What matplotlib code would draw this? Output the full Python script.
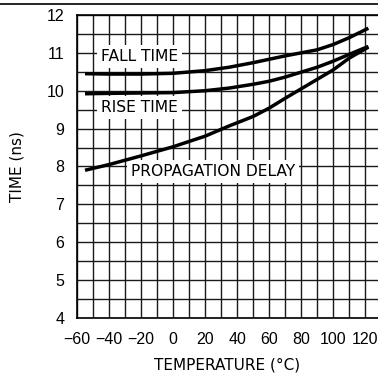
import matplotlib
matplotlib.use("Agg")
import matplotlib.pyplot as plt
from matplotlib.lines import Line2D

temps = [-55, -40, -20, 0, 20, 35, 50, 60, 70, 80, 90, 100, 110, 122]
fall_time = [10.45, 10.44, 10.44, 10.46, 10.53, 10.62, 10.74, 10.83, 10.92, 11.0, 11.08, 11.22, 11.4, 11.65]
rise_time = [9.92, 9.93, 9.94, 9.95, 10.0, 10.07, 10.17, 10.25, 10.36, 10.49, 10.62, 10.78, 10.96, 11.17]
prop_delay = [7.9, 8.05, 8.28, 8.52, 8.8, 9.07, 9.32, 9.54, 9.8, 10.05, 10.3, 10.55, 10.86, 11.15]

x_ticks = [-60, -40, -20, 0, 20, 40, 60, 80, 100, 120]
y_ticks = [4, 5, 6, 7, 8, 9, 10, 11, 12]

plt.rcParams['font.family'] = ['DejaVu Sans']

fig = plt.figure(figsize=(3.78, 3.79), dpi=100)
ax = fig.add_axes([0.2037, 0.161, 0.7963, 0.7995])

ax.set_xlim(-60, 128)
ax.set_ylim(4, 12)

# grid
for gx in range(-60, 121, 10):
    ax.axvline(gx, color='#1a1a1a', lw=1.0, zorder=1)
for i in range(0, 17):
    ax.axhline(4 + 0.5 * i, color='#1a1a1a', lw=1.0, zorder=1)

for y in (fall_time, rise_time, prop_delay):
    ax.plot(temps, y, color='black', lw=2.5, solid_capstyle='butt', zorder=3)

box = dict(facecolor='white', edgecolor='none', pad=3)
tkw = dict(fontsize=11.2, ha='center', va='center', bbox=box, zorder=2)
ax.text(-21, 10.9, 'FALL TIME', **tkw)
ax.text(-21, 9.55, 'RISE TIME', **tkw)
ax.text(25, 7.86, 'PROPAGATION DELAY', **tkw)

ax.set_xticks(x_ticks)
ax.set_xticklabels([str(t).replace('-', '\u2212') for t in x_ticks])
ax.set_yticks(y_ticks)
ax.tick_params(length=0, labelsize=11.5)
ax.tick_params(axis='x', pad=10)
ax.tick_params(axis='y', pad=9)
for lbl in ax.get_xticklabels() + ax.get_yticklabels():
    lbl.set_family(['Liberation Sans', 'DejaVu Sans'])
for s in ('left', 'bottom', 'top'):
    ax.spines[s].set_linewidth(1.2)
ax.spines['right'].set_visible(False)

ax.set_xlabel('TEMPERATURE (\u00b0C)', fontsize=11, labelpad=8)
ax.set_ylabel('TIME (ns)', fontsize=11, labelpad=16)

fig.add_artist(Line2D([0, 1], [1 - 3.5 / 379, 1 - 3.5 / 379], color='black', lw=1.2))

fig.savefig('out.png', dpi=100)
